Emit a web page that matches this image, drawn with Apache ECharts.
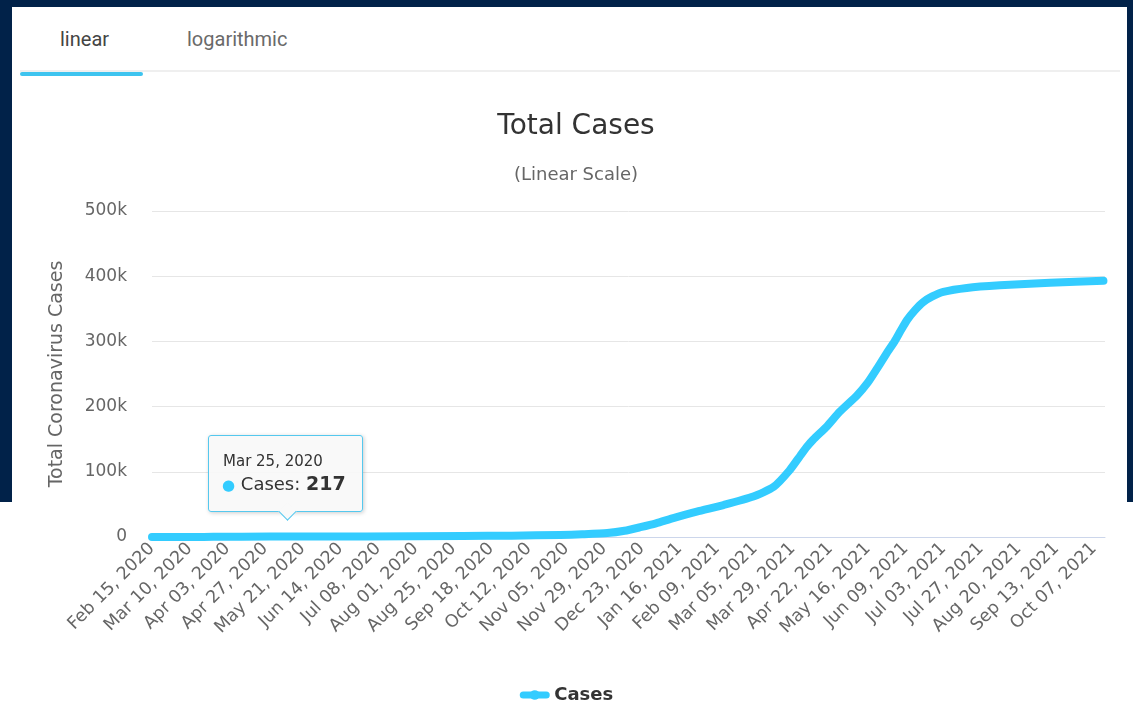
<!DOCTYPE html>
<html>
<head>
<meta charset="utf-8">
<script src="https://cdn.jsdelivr.net/npm/echarts@6/dist/echarts.min.js"></script>
<style>
  html, body { margin:0; padding:0; width:1133px; height:706px; background:#ffffff; overflow:hidden; }
  #frame { position:absolute; left:0; top:0; width:1133px; height:502px; background:#012249; }
  #panel { position:absolute; left:12px; top:7px; width:1115px; height:699px; background:#ffffff; }
  #white-bottom { position:absolute; left:0; top:502px; width:1133px; height:204px; background:#ffffff; }
  .tab { position:absolute; top:27px; font-family:Roboto, sans-serif; font-size:20px; }
  #tab1 { left:60px; color:#444; }
  #tab2 { left:187px; color:#6a6a6a; }
  #tabline { position:absolute; left:20px; top:70px; width:1100px; height:2px; background:#efefef; }
  #tabactive { position:absolute; left:20px; top:72px; width:123px; height:4px; background:#3ec4ef; border-radius:2px; }
  #chart { position:absolute; left:0; top:0; width:1133px; height:706px; }
</style>
</head>
<body>
<div id="frame"></div>
<div id="white-bottom"></div>
<div id="panel"></div>
<div class="tab" id="tab1">linear</div>
<div class="tab" id="tab2">logarithmic</div>
<div id="tabline"></div>
<div id="tabactive"></div>
<div id="chart"></div>
<script>
// ---- data ----
var dates = [
  "2020-02-15","2020-03-13","2020-03-25","2020-04-30","2020-06-30","2020-08-31",
  "2020-10-01","2020-11-01","2020-11-15","2020-12-01","2020-12-12","2020-12-22",
  "2021-01-01","2021-01-12","2021-01-27","2021-02-13","2021-03-04","2021-03-17",
  "2021-03-27","2021-04-03","2021-04-07","2021-04-11","2021-04-20","2021-04-28",
  "2021-05-09","2021-05-16","2021-05-22","2021-05-28","2021-06-02","2021-06-06",
  "2021-06-10","2021-06-15","2021-06-20","2021-06-26","2021-07-03","2021-07-18",
  "2021-08-08","2021-09-09","2021-10-13"
];
var cases = [
  0, 4, 217, 630, 930, 1500,
  2100, 3100, 4200, 6000, 9500, 15000,
  21000, 29000, 39000, 49000, 62000, 77000,
  102000, 125000, 138000, 149000, 170000, 192000,
  217000, 237000, 259000, 282000, 300000, 317000,
  333000, 348000, 360000, 369000, 376000, 382000,
  386000, 390000, 393000
];
var yTicks = [0, 100000, 200000, 300000, 400000, 500000];
var startDate = "2020-02-15";
var endDate = "2021-10-14";
var tickEveryDays = 24;
var tooltipDate = "2020-03-25";

var MONTHS = ["Jan","Feb","Mar","Apr","May","Jun","Jul","Aug","Sep","Oct","Nov","Dec"];
var DAY = 86400000;
function ts(s){ var p = s.split("-"); return Date.UTC(+p[0], +p[1]-1, +p[2]); }
var base = ts(startDate);
function dayIdx(s){ return Math.round((ts(s) - base) / DAY); }
function fmtDay(d){
  var t = new Date(base + d * DAY);
  var dd = t.getUTCDate();
  return MONTHS[t.getUTCMonth()] + " " + (dd < 10 ? "0" + dd : dd) + ", " + t.getUTCFullYear();
}
var seriesData = dates.map(function(d, i){ return [dayIdx(d), cases[i]]; });

var chart = echarts.init(document.getElementById('chart'), null, {renderer:'canvas'});
var FONT = "DejaVu Sans";
chart.setOption({
  backgroundColor: 'transparent',
  animation: false,
  title: {
    text: 'Total Cases',
    subtext: '(Linear Scale)',
    left: 571,
    textAlign: 'center',
    top: 108,
    itemGap: 25,
    textStyle: { fontFamily: FONT, fontSize: 28, fontWeight: 'normal', color: '#333333' },
    subtextStyle: { fontFamily: FONT, fontSize: 18, color: '#666666' }
  },
  grid: { left: 152, right: 28, top: 211, bottom: 169 },
  xAxis: {
    type: 'value',
    min: 0,
    max: dayIdx(endDate),
    interval: tickEveryDays,
    splitLine: { show: false },
    axisTick: { show: false },
    axisLine: { show: true, lineStyle: { color: '#ccd6eb', width: 1 } },
    axisLabel: {
      rotate: 45,
      margin: 9,
      showMaxLabel: false,
      fontFamily: FONT,
      fontSize: 17.5,
      color: '#666666',
      formatter: function(v){ return fmtDay(v); }
    }
  },
  yAxis: {
    type: 'value',
    min: yTicks[0],
    max: yTicks[yTicks.length-1],
    interval: yTicks[1] - yTicks[0],
    name: 'Total Coronavirus Cases',
    nameLocation: 'middle',
    nameGap: 85,
    nameTextStyle: { fontFamily: FONT, fontSize: 19, color: '#666666' },
    axisLine: { show: false },
    axisTick: { show: false },
    splitLine: { lineStyle: { color: '#e6e6e6', width: 1 } },
    axisLabel: {
      margin: 25,
      fontFamily: FONT,
      fontSize: 17,
      color: '#666666',
      formatter: function(v){ return v === 0 ? '0' : (v / 1000) + 'k'; }
    }
  },
  legend: {
    top: 681,
    left: 'center',
    itemWidth: 23,
    itemHeight: 12,
    itemGap: 7,
    lineStyle: { width: 7 },
    itemStyle: { opacity: 1, color: '#33ccff' },
    textStyle: { fontFamily: FONT, fontSize: 18, fontWeight: 'bold', color: '#333333', padding: [0, 0, 0, 3] },
    data: ['Cases']
  },
  tooltip: {
    show: true,
    trigger: 'axis',
    axisPointer: { type: 'none' },
    triggerOn: 'none',
    alwaysShowContent: true,
    transitionDuration: 0,
    padding: 0,
    backgroundColor: 'rgba(249,249,249,0.92)',
    borderColor: '#55c8ee',
    borderWidth: 1,
    borderRadius: 3,
    extraCssText: 'box-shadow:1px 1px 4px rgba(0,0,0,0.2);width:153px;height:75px;overflow:visible;',
    position: function(){ return [208, 435]; },
    formatter: function(ps){
      var p = Array.isArray(ps) ? ps[0] : ps;
      return '<div style="position:relative;width:153px;height:75px;font-family:DejaVu Sans;">' +
        '<div style="position:absolute;left:14px;top:15px;font-size:15px;color:#333;">' + fmtDay(p.value[0]) + '</div>' +
        '<div style="position:absolute;left:13px;top:37px;font-size:18px;color:#333;white-space:nowrap;">' +
        '<span style="color:#33ccff;font-size:15px;">\u25CF</span> Cases: <b style="font-size:19px;">' + p.value[1] + '</b></div>' +
        '<div style="position:absolute;left:72px;top:69px;width:12px;height:12px;background:rgb(249,249,249);' +
        'border-right:1px solid #55c8ee;border-bottom:1px solid #55c8ee;transform:rotate(45deg);"></div>' +
        '</div>';
    }
  },
  series: [{
    name: 'Cases',
    type: 'line',
    data: seriesData,
    smooth: 0.2,
    symbol: 'circle',
    symbolSize: 10,
    showSymbol: false,
    color: '#33ccff',
    itemStyle: { opacity: 0 },
    lineStyle: { color: '#33ccff', width: 8, cap: 'round', join: 'round' },
    emphasis: { disabled: true }
  }]
});
function showTip(){
  chart.dispatchAction({ type: 'showTip', seriesIndex: 0, dataIndex: dates.indexOf(tooltipDate) });
}
showTip();
setTimeout(showTip, 50);
</script>
</body>
</html>
